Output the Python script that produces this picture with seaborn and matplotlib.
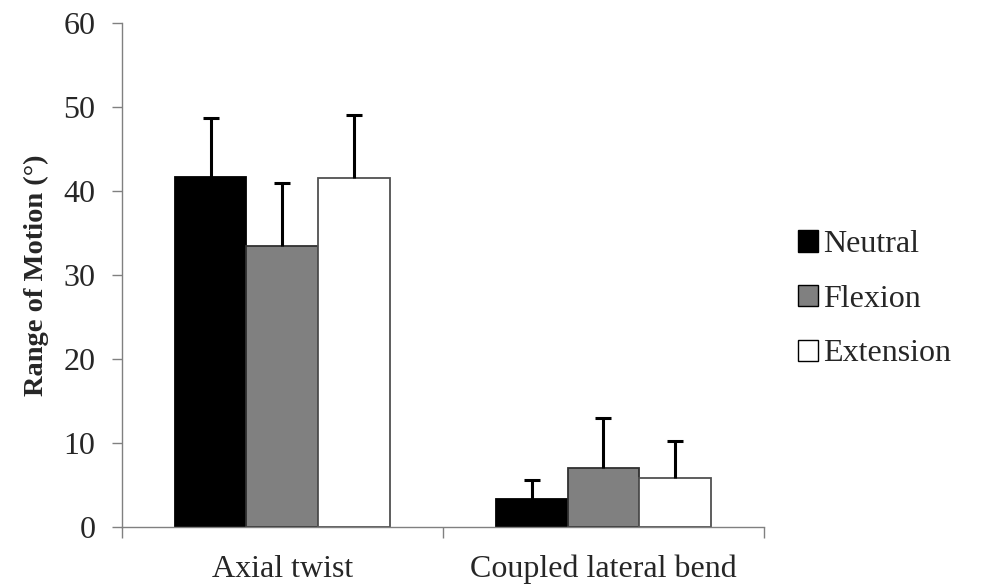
import numpy as np
import pandas as pd
import matplotlib
matplotlib.use("Agg")
import matplotlib.pyplot as plt
import seaborn as sns

# values
motions = ["Axial twist", "Coupled lateral bend"]
postures = ["Neutral", "Flexion", "Extension"]
neutral = [41.7, 3.3]
flexion = [33.4, 7.0]
extension = [41.6, 5.9]
neutral_sd = [7.0, 2.3]
flexion_sd = [7.6, 6.0]
extension_sd = [7.4, 4.3]

df = pd.DataFrame({
    "motion": motions * 3,
    "posture": np.repeat(postures, 2),
    "rom": neutral + flexion + extension,
    "sd": neutral_sd + flexion_sd + extension_sd,
})

sns.set_style("white")
plt.rcParams["font.family"] = ["Liberation Serif", "DejaVu Serif"]

fig = plt.figure(figsize=(9.82, 5.87), dpi=100)
ax = fig.add_axes([0.124, 0.102, 0.654, 0.859])

colors = {"Neutral": "#000000", "Flexion": "#808080", "Extension": "#ffffff"}
sns.barplot(data=df, x="motion", y="rom", hue="posture", order=motions,
            hue_order=postures, palette=colors, width=0.67, gap=0,
            errorbar=None, ax=ax, legend=False)

edge = {"Neutral": "#000000", "Flexion": "#303030", "Extension": "#505050"}
# error bars (upper only) placed at each bar centre
for cont, p in zip(ax.containers, postures):
    sub = df[df.posture == p].set_index("motion").loc[motions]
    xs = [b.get_x() + b.get_width() / 2 for b in cont]
    for b in cont:
        b.set_edgecolor(edge[p])
        b.set_linewidth(1.3)
    eb = ax.errorbar(xs, sub["rom"].values,
                     yerr=[np.zeros(len(xs)), sub["sd"].values],
                     fmt="none", ecolor="black", elinewidth=2.2, capsize=6,
                     capthick=2.2, zorder=3)
    eb[1][0].set_visible(False)  # hide the lower cap

ax.set_ylim(0, 60)
ax.set_yticks(range(0, 61, 10))
ax.set_xlim(-0.5, 1.5)
ax.set_xticks([-0.5, 0.5, 1.5])
ax.set_xticklabels([])
ax.set_xticks([0, 1], minor=True)
ax.set_xticklabels(motions, minor=True)
ax.tick_params(axis="x", which="minor", length=0, pad=20, labelsize=23)
ax.tick_params(axis="x", which="major", length=8, width=1, color="#808080",
               direction="out", bottom=True)
ax.tick_params(axis="y", length=7, width=1, color="#808080", direction="out",
               left=True, labelsize=23, pad=12)
for s in ["top", "right"]:
    ax.spines[s].set_visible(False)
for s in ["left", "bottom"]:
    ax.spines[s].set_color("#808080")
    ax.spines[s].set_linewidth(1)

ax.set_xlabel("")
ax.set_ylabel("Range of Motion (°)", fontsize=20.5, fontweight="bold", labelpad=10)

handles = [plt.Rectangle((0, 0), 1, 1, facecolor=colors[p], edgecolor="black",
                         linewidth=1) for p in postures]
fig.legend(handles, postures, loc="center left", bbox_to_anchor=(0.783, 0.49),
           frameon=False, fontsize=23, handlelength=0.65, handleheight=0.65,
           handletextpad=0.15, labelspacing=0.8)

fig.savefig("out.png", dpi=100)
